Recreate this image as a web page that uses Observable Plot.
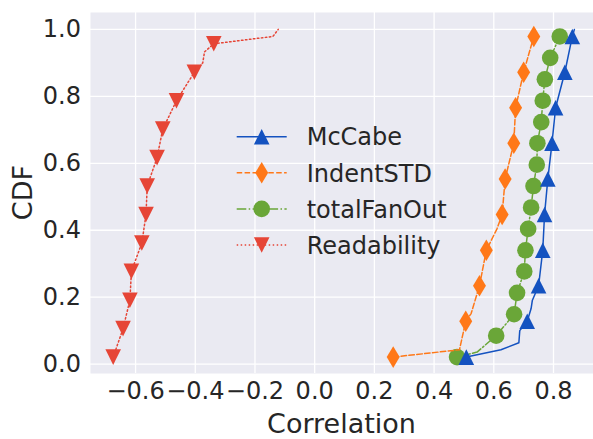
<!DOCTYPE html>
<html>
<head>
<meta charset="utf-8">
<script src="https://cdn.jsdelivr.net/npm/d3@7"></script>
<script src="https://cdn.jsdelivr.net/npm/@observablehq/plot@0.6"></script>
<style>
  html, body { margin: 0; padding: 0; background: #ffffff; }
  #chart { position: relative; width: 593px; height: 439px; }
</style>
</head>
<body>
<div id="chart"></div>
<script>
// ---------- data ----------
const xTicks = [-0.6, -0.4, -0.2, 0.0, 0.2, 0.4, 0.6, 0.8];
const yTicks = [0.0, 0.2, 0.4, 0.6, 0.8, 1.0];

const seriesNames = ["McCabe", "IndentSTD", "totalFanOut", "Readability"];
const seriesColors = ["#1452c0", "#ff7818", "#6aa638", "#e64536"];

// McCabe
const mccabeX = [0.508, 0.624, 0.684, 0.687, 0.712, 0.725, 0.729, 0.750, 0.764, 0.770, 0.781, 0.795, 0.807, 0.838, 0.863, 0.870];
const mccabeY = [0.021, 0.043, 0.064, 0.100, 0.128, 0.166, 0.190, 0.234, 0.340, 0.447, 0.553, 0.660, 0.766, 0.872, 0.979, 1.000];
const mccabeMarks = [0, 4, 7, 8, 9, 10, 11, 12, 13, 14];

// IndentSTD
const indentX = [0.263, 0.485, 0.506, 0.524, 0.552, 0.575, 0.611, 0.628, 0.638, 0.667, 0.673, 0.700, 0.734, 0.738];
const indentY = [0.021, 0.043, 0.128, 0.151, 0.234, 0.340, 0.405, 0.447, 0.553, 0.660, 0.766, 0.872, 0.979, 1.000];
const indentMarks = [0, 2, 4, 5, 7, 8, 9, 10, 11, 12];

// totalFanOut
const fanX = [0.477, 0.544, 0.608, 0.668, 0.678, 0.702, 0.706, 0.715, 0.725, 0.733, 0.744, 0.746, 0.759, 0.764, 0.771, 0.789, 0.821, 0.825];
const fanY = [0.021, 0.036, 0.085, 0.149, 0.213, 0.277, 0.340, 0.404, 0.468, 0.532, 0.596, 0.660, 0.723, 0.787, 0.851, 0.915, 0.979, 1.000];
const fanMarks = [0, 2, 3, 4, 5, 6, 7, 8, 9, 10, 11, 12, 13, 14, 15, 16];

// Readability
const readX = [-0.675, -0.642, -0.619, -0.614, -0.579, -0.565, -0.561, -0.528, -0.509, -0.463, -0.403, -0.375, -0.369, -0.338, -0.140, -0.122];
const readY = [0.021, 0.106, 0.191, 0.277, 0.362, 0.447, 0.532, 0.617, 0.702, 0.787, 0.872, 0.900, 0.933, 0.957, 0.979, 1.000];
const readMarks = [0, 1, 2, 3, 4, 5, 6, 7, 8, 9, 10, 13];

// ---------- marker shapes (matplotlib-like, centered on bbox) ----------
const triUp = {draw(ctx, size) { const r = Math.sqrt(size / Math.PI); ctx.moveTo(0, -r); ctx.lineTo(r, r); ctx.lineTo(-r, r); ctx.closePath(); }};
const triDown = {draw(ctx, size) { const r = Math.sqrt(size / Math.PI); ctx.moveTo(0, r); ctx.lineTo(r, -r); ctx.lineTo(-r, -r); ctx.closePath(); }};
const thinDiamond = {draw(ctx, size) { const r = Math.sqrt(size / Math.PI); ctx.moveTo(0, -r); ctx.lineTo(0.6 * r, 0); ctx.lineTo(0, r); ctx.lineTo(-0.6 * r, 0); ctx.closePath(); }};
const circleSym = {draw(ctx, size) { const r = Math.sqrt(size / Math.PI); ctx.moveTo(r, 0); ctx.arc(0, 0, r, 0, 2 * Math.PI); }};

const symbols = [triUp, thinDiamond, circleSym, triDown];
const radii = [7.8, 10.8, 8.3, 7.8];
const dashes = [null, "5.5,2.4", "9.6,2.4,1.5,2.4", "1.5,2.5"];

const lineData = [
  mccabeX.map((x, i) => ({x, y: mccabeY[i]})),
  indentX.map((x, i) => ({x, y: indentY[i]})),
  fanX.map((x, i) => ({x, y: fanY[i]})),
  readX.map((x, i) => ({x, y: readY[i]}))
];
const markIdx = [mccabeMarks, indentMarks, fanMarks, readMarks];

function seriesMarks(k) {
  const pts = lineData[k];
  return [
    Plot.line(pts, {x: "x", y: "y", stroke: seriesColors[k], strokeWidth: 1.5, strokeDasharray: dashes[k] ?? undefined}),
    Plot.dot(markIdx[k].map(i => pts[i]), {x: "x", y: "y", r: radii[k], symbol: symbols[k], fill: seriesColors[k], stroke: "none"})
  ];
}

const chart = Plot.plot({
  width: 593,
  height: 439,
  marginLeft: 90,
  marginRight: 0,
  marginTop: 12,
  marginBottom: 66,
  style: {fontFamily: "DejaVu Sans", fontSize: "24px", color: "#262626", background: "transparent", overflow: "visible"},
  x: {domain: [-0.751, 0.934]},
  y: {domain: [-0.028, 1.0505]},
  marks: [
    Plot.frame({fill: "#eaeaf2", stroke: "none"}),
    Plot.gridX(xTicks, {stroke: "white", strokeOpacity: 1, strokeWidth: 1.3}),
    Plot.gridY(yTicks, {stroke: "white", strokeOpacity: 1, strokeWidth: 1.3}),
    Plot.axisX(xTicks, {tickSize: 0, tickPadding: 8, tickFormat: d3.format(".1f"), label: null, fontSize: 24}),
    Plot.axisY(yTicks, {tickSize: 0, tickPadding: 9.5, tickFormat: d3.format(".1f"), label: null, fontSize: 24}),
    ...seriesMarks(3),
    ...seriesMarks(2),
    ...seriesMarks(1),
    ...seriesMarks(0)
  ]
});

document.getElementById("chart").appendChild(chart);

// axis titles
const svg = d3.select(chart);
svg.append("text")
  .attr("x", 341.5).attr("y", 433)
  .attr("text-anchor", "middle")
  .attr("fill", "#262626")
  .style("font-size", "27px")
  .text("Correlation");
svg.append("text")
  .attr("transform", "translate(31.7,192.6) rotate(-90)")
  .attr("text-anchor", "middle")
  .attr("fill", "#262626")
  .style("font-size", "27px")
  .text("CDF");

// legend (no frame, inside the axes)
const lg = svg.append("g");
seriesNames.forEach((name, i) => {
  const y = 136.7 + i * 36.1;
  lg.append("line")
    .attr("x1", 236.7).attr("x2", 286.7).attr("y1", y).attr("y2", y)
    .attr("stroke", seriesColors[i]).attr("stroke-width", 1.5)
    .attr("stroke-dasharray", dashes[i]);
  lg.append("path")
    .attr("d", d3.symbol(symbols[i], Math.PI * radii[i] * radii[i])())
    .attr("transform", `translate(261.7,${y})`)
    .attr("fill", seriesColors[i]);
  lg.append("text")
    .attr("x", 306.7).attr("y", y + 8.75)
    .attr("text-anchor", "start")
    .attr("fill", "#262626")
    .style("font-size", "24px")
    .text(name);
});
</script>
</body>
</html>
